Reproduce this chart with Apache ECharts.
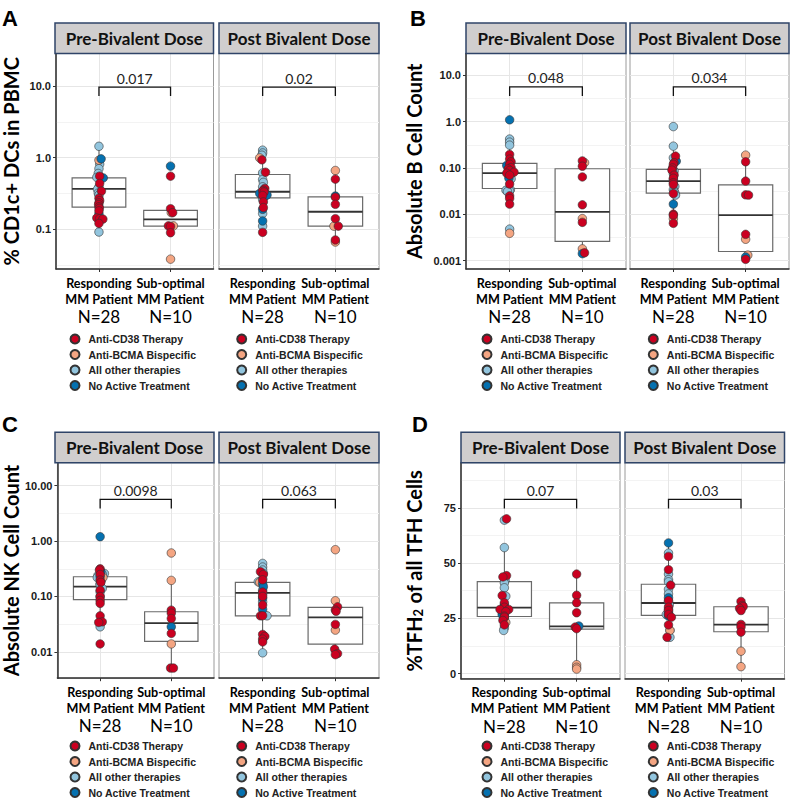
<!DOCTYPE html>
<html><head><meta charset="utf-8">
<script src="https://cdn.jsdelivr.net/npm/echarts@6/dist/echarts.min.js"></script>
<style>html,body{margin:0;padding:0;background:#fff}#c{width:798px;height:803px}</style>
</head><body><div id="c"></div>
<script>
// ---------- DATA ----------
const groupNames = ['Anti-CD38 Therapy','Anti-BCMA Bispecific','All other therapies','No Active Treatment'];
const groupColors = ['#CA0020','#F4A582','#92C5DE','#0571B0'];
const categoryLines = [['Responding','MM Patient'],['Sub-optimal','MM Patient']];
const categoryN = ['N=28','N=10'];
const facetNames = ['Pre-Bivalent Dose','Post Bivalent Dose'];
const panelLetters = ['A','B','C','D'];
const yTitles = ['% CD1c+ DCs in PBMC','Absolute B Cell Count','Absolute NK Cell Count','%TFH{sub|2} of all TFH Cells'];
const pValues = [['0.017','0.02'],['0.048','0.034'],['0.0098','0.063'],['0.07','0.03']];
const bracketTop = [9.69, 5.6, 5.68, 78.8];
const bracketTip = [7.25, 3.58, 3.9, 74.7];

// tick values / labels
const ticksA = [0.1, 1, 10];            const labelsA = ['0.1','1.0','10.0'];
const ticksB = [0.001, 0.01, 0.1, 1, 10]; const labelsB = ['0.001','0.01','0.10','1.0','10.0'];
const ticksC = [0.01, 0.1, 1, 10];      const labelsC = ['0.01','0.10','1.00','10.00'];
const ticksD = [0, 25, 50, 75];         const labelsD = ['0','25','50','75'];
const minorA = [0.0316, 0.316, 3.16];
const minorB = [0.00316, 0.0316, 0.316, 3.16];
const minorC = [0.0316, 0.316, 3.16];
const minorD = [12.5, 37.5, 62.5, 87.5];
const yRangeA = [0.02767, 28.58];
const yRangeB = [0.000662, 29.38];
const yRangeC = [0.003342, 26.06];
const yRangeD = [-2.35, 95.4];

// points: [value, group, jitter]
const aPreResp = [[1.44,2,0],[0.96,3,0.03],[0.92,1,0],[0.81,2,0.01],[0.70,2,0],[0.60,2,-0.01],[0.55,0,0.01],[0.53,2,-0.03],[0.52,3,0.06],[0.435,0,0.01],[0.39,2,0],[0.36,2,-0.02],[0.34,0,0.035],[0.32,2,-0.01],[0.30,2,0],[0.27,0,0],[0.25,0,0.01],[0.233,0,0],[0.22,0,-0.005],[0.205,0,0],[0.195,0,0.005],[0.18,0,0],[0.163,3,0],[0.143,0,-0.03],[0.14,0,0.01],[0.138,0,0.055],[0.12,0,0],[0.091,2,0]];
const aPreSub = [[0.76,3,0],[0.55,0,0],[0.193,0,0],[0.17,1,0.01],[0.17,0,0.03],[0.111,0,-0.03],[0.111,1,0.04],[0.109,0,0],[0.089,0,0],[0.038,1,0]];
const aPostResp = [[1.27,2,0],[1.16,2,0],[1.08,2,-0.01],[0.99,1,-0.04],[0.93,0,-0.01],[0.625,0,0.04],[0.61,2,0],[0.494,2,0],[0.45,2,0.01],[0.39,2,0],[0.37,0,0.03],[0.35,0,0.01],[0.34,0,0],[0.33,0,0.02],[0.316,3,-0.04],[0.31,3,0.02],[0.30,3,0.06],[0.295,0,0],[0.29,2,-0.01],[0.28,2,0.02],[0.26,2,0],[0.24,0,0.01],[0.2,0,0.01],[0.189,3,0],[0.165,2,0],[0.13,3,0],[0.11,2,0],[0.09,0,0]];
const aPostSub = [[0.66,1,0],[0.50,0,0],[0.29,3,0],[0.28,0,0],[0.222,0,0],[0.14,0,0],[0.11,1,-0.02],[0.11,0,0.04],[0.0705,0,0],[0.066,1,0]];

const bPreResp = [[1.09,3,0],[0.42,2,0],[0.36,2,0],[0.31,2,0],[0.195,0,0],[0.155,0,0],[0.136,0,0.02],[0.12,0,0],[0.113,3,-0.04],[0.102,0,0.02],[0.095,0,-0.02],[0.088,0,0],[0.081,0,0.06],[0.077,0,-0.04],[0.07,0,0],[0.065,2,0.01],[0.06,3,-0.01],[0.058,2,0.02],[0.045,0,0],[0.034,2,0.01],[0.033,2,-0.05],[0.032,2,0],[0.031,2,-0.03],[0.025,0,0],[0.022,0,0],[0.0166,0,0],[0.0048,2,0],[0.0039,1,0]];
const bPreSub = [[0.142,0,0],[0.13,1,0.03],[0.109,0,0],[0.064,0,0],[0.016,0,0],[0.0081,1,0],[0.0067,0,0],[0.0018,1,0],[0.00148,0,0.03],[0.00142,3,0]];
const bPostResp = [[0.78,2,0],[0.295,2,0],[0.18,0,0.03],[0.165,2,0],[0.14,3,0.04],[0.13,0,0.01],[0.12,0,0],[0.1,0,-0.01],[0.09,0,-0.02],[0.088,2,0],[0.085,2,0.01],[0.075,2,0],[0.07,0,0.01],[0.06,0,0],[0.0565,3,0],[0.048,0,0],[0.044,0,0],[0.04,2,0.02],[0.034,2,0],[0.0316,2,0.01],[0.029,2,0.02],[0.028,0,0],[0.026,2,0.03],[0.0166,3,0],[0.0101,0,0],[0.0095,0,0],[0.008,1,0],[0.0064,0,0]];
const bPostSub = [[0.189,1,0],[0.136,0,0],[0.052,0,0],[0.0263,0,0],[0.026,0,0.04],[0.0037,0,0],[0.0029,1,0],[0.00132,1,0.03],[0.0012,3,0],[0.00107,0,0]];

const cPreResp = [[1.2,3,0],[0.316,0,0],[0.30,0,-0.01],[0.283,3,0.01],[0.26,2,0.06],[0.25,0,0],[0.25,2,0.03],[0.24,2,-0.03],[0.23,3,0],[0.221,1,0.04],[0.22,2,-0.04],[0.2,2,0.02],[0.198,0,0],[0.18,0,0.01],[0.17,2,0],[0.163,2,0],[0.14,2,0.03],[0.13,0,0],[0.121,2,0],[0.1,0,0],[0.099,2,0],[0.085,0,0],[0.075,0,0],[0.0447,0,0],[0.0348,0,0.03],[0.034,0,-0.02],[0.0283,2,0],[0.0139,0,0]];
const cPreSub = [[0.61,1,0],[0.195,1,0],[0.0566,0,0],[0.05,0,0],[0.04,0,0],[0.0283,3,0],[0.0215,0,0],[0.0139,1,0],[0.0051,0,-0.01],[0.0051,0,0.03]];
const cPostResp = [[0.395,2,0],[0.34,2,0],[0.3,2,0],[0.28,0,-0.03],[0.26,2,0.01],[0.25,0,0.01],[0.21,2,0],[0.2,0,0],[0.184,2,-0.06],[0.18,1,-0.04],[0.17,3,0],[0.15,3,0.01],[0.13,2,0],[0.12,0,0],[0.11,2,0],[0.1,0,0],[0.093,3,0],[0.08,2,0],[0.07,0,0],[0.0583,3,0],[0.0447,0,-0.03],[0.0447,2,0.06],[0.045,0,0],[0.0206,0,0],[0.019,0,0.03],[0.017,0,0],[0.0151,0,0],[0.0096,2,0]];
const cPostSub = [[0.70,1,0],[0.0836,1,0],[0.065,0,0.03],[0.057,0,0],[0.054,0,0.01],[0.0313,0,0],[0.0247,1,0],[0.0112,0,-0.01],[0.0093,0,0.03],[0.0089,0,0]];

const dPreResp = [[70,0,0.03],[69.4,2,0],[57,2,0],[44.3,0,0.03],[43.7,0,-0.02],[42.2,2,0.01],[41,2,0],[38.8,2,0],[35.3,0,-0.03],[35,2,0.02],[32,0,0],[31,3,0],[30,0,0],[29.8,3,-0.01],[29,0,-0.06],[29,0,0.06],[28.5,2,0],[28,0,0.02],[27,2,0],[26.6,3,-0.03],[26,0,0],[25.5,0,0],[24.5,2,0],[24,0,-0.02],[23.1,1,0.02],[22,0,0],[20.7,2,0],[19.5,2,-0.01]];
const dPreSub = [[45,0,0],[35.4,0,0],[32,0,0],[27.5,0,0],[21,0,-0.02],[21.5,3,0.03],[20.3,0,0],[4,1,0],[2.8,1,0],[2,1,0]];
const dPostResp = [[59.1,3,0],[54.5,2,0],[53,0,0],[47,0,0],[45,2,0],[42.5,2,0],[41.5,2,0],[40,0,0.03],[38.1,2,0],[36,2,0],[34.3,3,0],[33,0,0],[32.5,2,0],[31,2,0.01],[30,0,0],[29,2,0],[28.5,0,0],[27.8,2,0],[27,3,0],[26.7,0,0],[26.7,2,-0.03],[26,3,0],[25.5,0,0.04],[22,0,0],[19.5,2,0.02],[19.5,1,0.02],[16.4,0,-0.02],[16.4,2,0.02]];
const dPostSub = [[32.6,0,0],[30.8,0,0.02],[30.3,0,0.03],[29.5,0,-0.02],[28.5,0,0],[22.2,0,0],[21,0,0],[18.7,0,0],[10.1,1,0],[3.1,1,0]];

// box stats: [low, q1, median, q3, high] for [Responding, Sub-optimal]
const aPreBox  = [[0.091,0.203,0.366,0.52,1.44],[0.089,0.11,0.137,0.183,0.193]];
const aPostBox = [[0.09,0.274,0.333,0.58,1.27],[0.066,0.11,0.175,0.283,0.66]];
const bPreBox  = [[0.0166,0.036,0.077,0.125,0.42],[0.00142,0.0026,0.0113,0.096,0.142]];
const bPostBox = [[0.0064,0.0286,0.052,0.093,0.295],[0.00107,0.00158,0.0096,0.043,0.189]];
const cPreBox  = [[0.0283,0.088,0.15,0.227,0.316],[0.0051,0.0154,0.033,0.053,0.195]];
const cPostBox = [[0.0096,0.0447,0.116,0.18,0.395],[0.0089,0.0138,0.0418,0.0634,0.0836]];
const dPreBox  = [[19.5,25.8,29.8,41.6,57],[2.8,20.1,21.3,32.0,45]];
const dPostBox = [[16.4,26.3,31.9,40.4,59.1],[3.1,18.9,22.1,30.2,32.6]];

// ---------- LAYOUT ----------
const gridLeft  = [[55,219],[466,630],[55,219],[461,625]];
const gridWidth = [[158.5,160],[160,159],[159,160],[159,159.5]];
const gridTop   = [53.5,53.5,462.7,462.7];
const gridHeight= [215.5,215.5,215.5,216];
const stripH = 30.5;
const letterPos = [[2,7],[410,7],[2,413],[412,413]];
const legendPos = [[[69.5,333.5],[236.2,333.5]],[[481.5,333.5],[647.8,333.5]],[[69.5,740.5],[236.2,740.5]],[[481.5,740.5],[647.8,740.5]]];
const titleGap = [35, 42, 30, 37];

const panelPoints = [[aPreResp,aPreSub,aPostResp,aPostSub],[bPreResp,bPreSub,bPostResp,bPostSub],[cPreResp,cPreSub,cPostResp,cPostSub],[dPreResp,dPreSub,dPostResp,dPostSub]];
const panelBoxes = [[aPreBox,aPostBox],[bPreBox,bPostBox],[cPreBox,cPostBox],[dPreBox,dPostBox]];
const panelTicks = [[ticksA,labelsA,minorA,yRangeA,'log'],[ticksB,labelsB,minorB,yRangeB,'log'],[ticksC,labelsC,minorC,yRangeC,'log'],[ticksD,labelsD,minorD,yRangeD,'value']];

const LATO = 'Lato';
const ARIAL = 'Liberation Sans';

const grids = [], xAxes = [], yAxes = [], series = [], legends = [], graphics = [];

function catLabel(v) {
  const i = Math.round(v) - 1;
  return '{b|' + categoryLines[i][0] + '}\n{b|' + categoryLines[i][1] + '}\n{n|' + categoryN[i] + '}';
}
const catRich = {b: {fontFamily: LATO, fontWeight: 'bold', fontSize: 12.6, lineHeight: 16, color: '#000'},
                 n: {fontFamily: LATO, fontSize: 17, lineHeight: 19, color: '#000'}};

for (let p = 0; p < 4; p++) {
  const [ticks, labels, minors, yr, ytype] = panelTicks[p];
  graphics.push({type:'text', left: letterPos[p][0], top: letterPos[p][1],
    style:{text: panelLetters[p], font: 'bold 22px ' + ARIAL, fill:'#000'}});
  for (let f = 0; f < 2; f++) {
    const g = grids.length;
    const L = gridLeft[p][f], W = gridWidth[p][f], T = gridTop[p], H = gridHeight[p];
    grids.push({left: L, top: T, width: W, height: H, show: true, borderColor: '#9a9a9a', borderWidth: 1, backgroundColor: '#fff'});
    graphics.push({type:'rect', shape:{x: L, y: T - stripH, width: W, height: stripH},
      style:{fill:'#D0CECE', stroke:'#2F4468', lineWidth:1.5}, z: 10});
    graphics.push({type:'text', x: L + W/2, y: T - stripH/2, z: 11,
      style:{text: facetNames[f], font: 'bold 17px ' + LATO, fill:'#111', align:'center', verticalAlign:'middle'}});
    const xi = xAxes.length;
    xAxes.push({
      gridIndex: g, type: 'value', min: 0.4, max: 2.6, position: 'bottom',
      axisLine: {show: true, onZero: false, lineStyle: {color: '#333', width: 1.5}},
      axisTick: {show: true, length: 3, customValues: [1, 2], lineStyle: {color: '#333'}},
      axisLabel: {customValues: [1], margin: 6, color: '#000', hideOverlap: false, formatter: catLabel, rich: catRich},
      splitLine: {show: true, lineStyle: {color: '#e6e6e6', width: 1}}
    });
    xAxes.push({
      gridIndex: g, type: 'value', min: 0.4, max: 2.6, position: 'bottom',
      axisLine: {show: false, onZero: false}, axisTick: {show: false, customValues: [2]},
      axisLabel: {customValues: [2], margin: 6, color: '#000', hideOverlap: false, formatter: catLabel, rich: catRich},
      splitLine: {show: false}
    });
    const yi = yAxes.length;
    yAxes.push({
      gridIndex: g, type: ytype, min: yr[0], max: yr[1], position: 'left',
      axisLine: {show: f === 0, onZero: false, lineStyle: {color: '#333', width: 1.5}},
      axisTick: {show: f === 0, length: 3, customValues: ticks, lineStyle: {color: '#333'}},
      axisLabel: {show: f === 0, customValues: ticks, margin: 5, color: '#1a1a1a', hideOverlap: false,
        fontFamily: ARIAL, fontWeight: 'bold', fontSize: 11,
        formatter: v => { const k = ticks.findIndex(t => Math.abs(t - v) <= 1e-9 * Math.max(1, Math.abs(t)) + 1e-12); return k >= 0 ? labels[k] : ''; }},
      splitLine: {show: true, lineStyle: {color: '#e6e6e6', width: 1}},
      name: f === 0 ? yTitles[p] : '', nameLocation: 'middle', nameGap: titleGap[p],
      nameTextStyle: {fontFamily: LATO, fontWeight: 'bold', fontSize: 20, color: '#000',
        rich: {sub: {fontFamily: LATO, fontWeight: 'bold', fontSize: 13, verticalAlign: 'bottom', lineHeight: 18}}}
    });
    yAxes.push({
      gridIndex: g, type: ytype, min: yr[0], max: yr[1], position: 'left',
      axisLine: {show: false}, axisTick: {show: false, customValues: minors},
      axisLabel: {show: false, customValues: minors},
      splitLine: {show: true, lineStyle: {color: '#f3f3f3', width: 1}}
    });
    const boxes = panelBoxes[p][f];
    series.push({
      type: 'custom', xAxisIndex: xi, yAxisIndex: yi, z: 2, silent: true,
      encode: {x: 0, y: [1, 2, 3, 4, 5]},
      data: boxes.map((b, i) => [i + 1].concat(b)),
      renderItem: (params, api) => {
        const x = api.value(0);
        const lo = api.coord([x, api.value(1)]), q1 = api.coord([x, api.value(2)]),
              md = api.coord([x, api.value(3)]), q3 = api.coord([x, api.value(4)]), hi = api.coord([x, api.value(5)]);
        const xl = api.coord([x - 0.375, api.value(3)])[0], xr = api.coord([x + 0.375, api.value(3)])[0];
        return {type: 'group', children: [
          {type: 'line', shape: {x1: q3[0], y1: q3[1], x2: hi[0], y2: hi[1]}, style: {stroke: '#555', lineWidth: 1}},
          {type: 'line', shape: {x1: q1[0], y1: q1[1], x2: lo[0], y2: lo[1]}, style: {stroke: '#555', lineWidth: 1}},
          {type: 'rect', shape: {x: xl, y: q3[1], width: xr - xl, height: q1[1] - q3[1]}, style: {fill: '#fff', stroke: '#6a6a6a', lineWidth: 1.2}},
          {type: 'line', shape: {x1: xl, y1: md[1], x2: xr, y2: md[1]}, style: {stroke: '#333', lineWidth: 1.8}}
        ]};
      }
    });
    const resp = panelPoints[p][f * 2], sub = panelPoints[p][f * 2 + 1];
    [2, 1, 3, 0].forEach(grp => {
      const d = [];
      resp.forEach(pt => { if (pt[1] === grp) d.push([1 + pt[2], pt[0]]); });
      sub.forEach(pt => { if (pt[1] === grp) d.push([2 + pt[2], pt[0]]); });
      series.push({
        type: 'scatter', name: groupNames[grp], xAxisIndex: xi, yAxisIndex: yi, z: 5,
        symbol: 'circle', symbolSize: 8.5, data: d,
        itemStyle: {color: groupColors[grp], borderColor: '#333', borderWidth: 0.6, opacity: 1},
        emphasis: {disabled: true}
      });
    });
    const top = bracketTop[p], tip = bracketTip[p], lab = pValues[p][f];
    series.push({
      type: 'custom', xAxisIndex: xi, yAxisIndex: yi, z: 6, silent: true,
      encode: {x: 0, y: 1}, data: [[1.5, top]],
      renderItem: (params, api) => {
        const a = api.coord([1, top]), b = api.coord([2, top]), a2 = api.coord([1, tip]), b2 = api.coord([2, tip]);
        return {type: 'group', children: [
          {type: 'polyline', shape: {points: [a2, a, b, b2]}, style: {stroke: '#111', lineWidth: 1.3, fill: null}},
          {type: 'text', x: (a[0] + b[0]) / 2, y: a[1] - 2,
           style: {text: lab, fill: '#222', fontFamily: LATO, fontSize: 14, align: 'center', verticalAlign: 'bottom'}}
        ]};
      }
    });
    legends.push({
      orient: 'vertical', left: legendPos[p][f][0], top: legendPos[p][f][1], width: 150, height: 64,
      itemWidth: 9, itemHeight: 9, itemGap: 4.5, icon: 'circle', selectedMode: false,
      data: groupNames, padding: 0,
      textStyle: {fontFamily: ARIAL, fontWeight: 'bold', fontSize: 10.5, color: '#222', padding: [0, 0, 0, 4]}
    });
  }
}

const chart = echarts.init(document.getElementById('c'), null, {renderer: 'svg'});
chart.setOption({
  animation: false,
  backgroundColor: '#fff',
  grid: grids, xAxis: xAxes, yAxis: yAxes, series: series, legend: legends, graphic: graphics
});
</script>
</body></html>
